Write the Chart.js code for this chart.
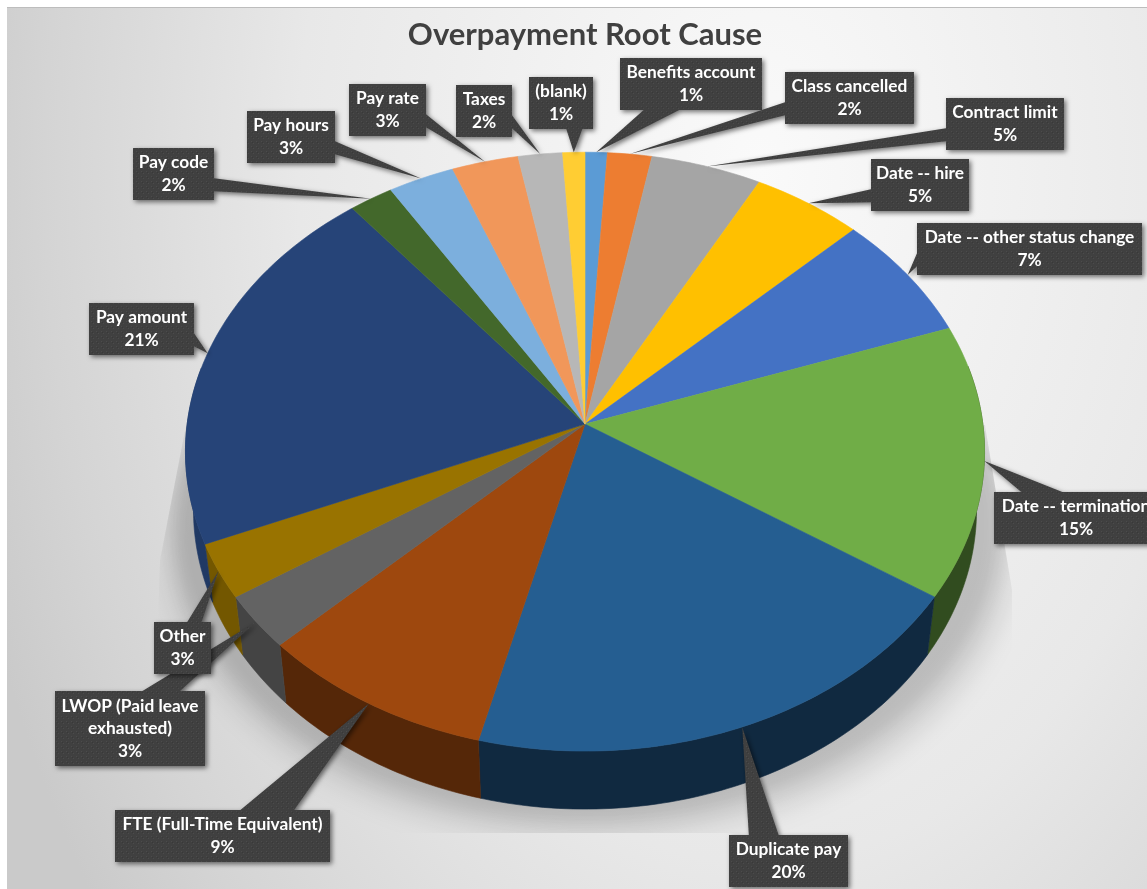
<!DOCTYPE html>
<html lang="en">
<head>
  <meta charset="UTF-8" />
  <title>Overpayment Root Cause</title>
  <script src="https://cdn.jsdelivr.net/npm/chart.js"></script>
  <style>
    html, body { margin: 0; padding: 0; background: #fff; overflow: hidden; }
    canvas { display: block; }
  </style>
</head>
<body>

<canvas id="rootCause" width="1147" height="889"></canvas>

<script>
  const categories = [
    'Benefits account', 'Class cancelled', 'Contract limit', 'Date -- hire',
    'Date -- other status change', 'Date -- termination', 'Duplicate pay',
    'FTE (Full-Time Equivalent)', 'LWOP (Paid leave exhausted)', 'Other',
    'Pay amount', 'Pay code', 'Pay hours', 'Pay rate', 'Taxes', '(blank)'
  ];
  const percents = [1, 2, 5, 5, 7, 15, 20, 9, 3, 3, 21, 2, 3, 3, 2, 1];
  const sliceColors = [
    '#5B9BD5', '#ED7D31', '#A5A5A5', '#FFC000', '#4472C4', '#70AD47', '#255E91',
    '#9E480E', '#636363', '#997300', '#264478', '#43682B', '#7CAFDD', '#F1975A',
    '#B7B7B7', '#FFCD33'
  ];
  // callout boxes as [left, top, width, height], same order as categories
  const calloutBoxes = [
    [620, 58, 142, 52], [785, 72, 129, 52], [946, 98, 118, 52], [871, 159, 98, 52],
    [917, 223, 225, 52], [994, 492, 164, 52], [729, 835, 119, 52], [115, 810, 215, 52],
    [55, 691, 150, 75], [154, 622, 57, 52], [89, 303, 105, 52], [133, 148, 81, 52],
    [247, 111, 88, 52], [349, 84, 77, 52], [456, 85, 56, 52], [529, 77, 64, 52]
  ];

  const X_STRETCH = 1.34;   // pie is wider than tall once tilted
  const TILT = 0.092;       // perspective strength, front of the pie comes closer
  const DEPTH = 58;         // wall height
  const STEP = Math.PI / 180;

  // tilted disc: angle on the circle -> canvas point
  function rim(arc, a) {
    const u = Math.cos(a), v = Math.sin(a);
    const w = 1 - TILT * v;
    return {
      x: arc.x + arc.outerRadius * X_STRETCH * u / w,
      y: arc.y + arc.outerRadius * v / w,
      u,
      v
    };
  }

  function shade(hex, f) {
    const n = parseInt(hex.slice(1), 16);
    const c = [n >> 16, (n >> 8) & 255, n & 255].map(p => Math.round(p * f));
    return `rgb(${c[0]},${c[1]},${c[2]})`;
  }

  // top face of each slice, the library still walks the elements and passes the colour
  Chart.ArcElement.prototype.draw = function (ctx) {
    const { x, y, startAngle, endAngle, options } = this;
    ctx.save();
    ctx.beginPath();
    ctx.moveTo(x, y);
    for (let a = startAngle; a < endAngle; a += STEP) {
      const p = rim(this, a);
      ctx.lineTo(p.x, p.y);
    }
    const last = rim(this, endAngle);
    ctx.lineTo(last.x, last.y);
    ctx.closePath();
    ctx.fillStyle = options.backgroundColor;
    ctx.strokeStyle = options.backgroundColor;
    ctx.lineWidth = 0.6;
    ctx.fill();
    ctx.stroke();
    ctx.restore();
  };

  function drawWall(ctx, arc, color) {
    let pts = [];
    for (let a = arc.startAngle; a < arc.endAngle; a += STEP) pts.push(rim(arc, a));
    pts.push(rim(arc, arc.endAngle));
    // the back of the wall is hidden by the top face
    pts = pts.filter(p => p.v > -0.2);
    if (pts.length < 2) return;
    const mid = pts[Math.floor(pts.length / 2)];
    // front and right walls sit in shade, the left ones catch more light
    const f = mid.u > 0 ? 0.44 : 0.44 + 0.4 * mid.u * mid.u;
    ctx.beginPath();
    pts.forEach((p, i) => i ? ctx.lineTo(p.x, p.y) : ctx.moveTo(p.x, p.y));
    pts.slice().reverse().forEach(p => {
      ctx.lineTo(arc.x + (p.x - arc.x) * 0.98, p.y + DEPTH);
    });
    ctx.closePath();
    ctx.fillStyle = shade(color, f);
    ctx.strokeStyle = ctx.fillStyle;
    ctx.lineWidth = 0.6;
    ctx.fill();
    ctx.stroke();
  }

  function dotTexture(ctx) {
    const tile = document.createElement('canvas');
    tile.width = tile.height = 5;
    const t = tile.getContext('2d');
    t.fillStyle = '#404040';
    t.fillRect(0, 0, 5, 5);
    t.fillStyle = '#4c4c4c';
    t.fillRect(1, 1, 1, 1);
    t.fillRect(3, 3, 1, 1);
    t.fillStyle = '#383838';
    t.fillRect(2, 2, 1, 1);
    return ctx.createPattern(tile, 'repeat');
  }

  // wedge callout: the base sits on the side facing the tip
  function calloutPath(ctx, box, tip) {
    const [l, t, w, h] = box;
    const dx = (tip.x - (l + w / 2)) / w;
    const dy = (tip.y - (t + h / 2)) / h;
    const r = l + w, b = t + h;
    const bx1 = l + w * (dx < 0 ? 1 / 6 : 7 / 12), bx2 = l + w * (dx < 0 ? 5 / 12 : 5 / 6);
    const by1 = t + h * (dy < 0 ? 1 / 6 : 7 / 12), by2 = t + h * (dy < 0 ? 5 / 12 : 5 / 6);
    const sideways = Math.abs(dx) > Math.abs(dy);
    ctx.beginPath();
    ctx.moveTo(l, t);
    if (!sideways && dy < 0) { ctx.lineTo(bx1, t); ctx.lineTo(tip.x, tip.y); ctx.lineTo(bx2, t); }
    ctx.lineTo(r, t);
    if (sideways && dx > 0) { ctx.lineTo(r, by1); ctx.lineTo(tip.x, tip.y); ctx.lineTo(r, by2); }
    ctx.lineTo(r, b);
    if (!sideways && dy > 0) { ctx.lineTo(bx2, b); ctx.lineTo(tip.x, tip.y); ctx.lineTo(bx1, b); }
    ctx.lineTo(l, b);
    if (sideways && dx < 0) { ctx.lineTo(l, by2); ctx.lineTo(tip.x, tip.y); ctx.lineTo(l, by1); }
    ctx.closePath();
  }

  function wrapLines(ctx, text, maxWidth) {
    const lines = [];
    let line = '';
    text.split(' ').forEach(word => {
      const next = line ? line + ' ' + word : word;
      if (line && ctx.measureText(next).width > maxWidth) {
        lines.push(line);
        line = word;
      } else {
        line = next;
      }
    });
    lines.push(line);
    return lines;
  }

  const pie3d = {
    id: 'pie3d',
    beforeDraw(chart) {
      const { ctx, width, height } = chart;
      // panel background, light patch towards the upper right
      ctx.save();
      ctx.beginPath();
      ctx.rect(7, 8, width - 7, height - 8);
      ctx.clip();
      ctx.translate(760, 170);
      ctx.scale(1, 1.5);
      const g = ctx.createRadialGradient(0, 0, 0, 0, 0, 1100);
      g.addColorStop(0, '#fafafa');
      g.addColorStop(0.42, '#e8e8e8');
      g.addColorStop(0.65, '#d4d4d4');
      g.addColorStop(0.75, '#cacaca');
      g.addColorStop(1, '#cacaca');
      ctx.fillStyle = g;
      ctx.fillRect(-800, -200, 1300, 800);
      ctx.restore();
      ctx.fillStyle = '#bdbdbd';
      ctx.fillRect(7, 7, width - 7, 1);
    },
    beforeDatasetsDraw(chart) {
      const { ctx } = chart;
      const arcs = chart.getDatasetMeta(0).data;
      const first = arcs[0];
      // floor shadow, cut off by slanted sides and darkest next to the pie
      ctx.save();
      ctx.beginPath();
      ctx.moveTo(186, 425);
      ctx.lineTo(985, 425);
      ctx.lineTo(1012, 590);
      ctx.lineTo(1012, 833);
      ctx.lineTo(150, 833);
      ctx.lineTo(160, 560);
      ctx.closePath();
      ctx.clip();
      ctx.filter = 'blur(12px)';
      ctx.fillStyle = 'rgba(0,0,0,0.11)';
      ctx.beginPath();
      ctx.ellipse(first.x + 5, first.y + 116, first.outerRadius * 1.43, first.outerRadius * 1.01, 0, 0, Math.PI * 2);
      ctx.fill();
      ctx.filter = 'blur(8px)';
      ctx.fillStyle = 'rgba(0,0,0,0.1)';
      ctx.beginPath();
      ctx.ellipse(first.x + 2, first.y + 100, first.outerRadius * 1.39, first.outerRadius * 1.0, 0, 0, Math.PI * 2);
      ctx.fill();
      ctx.restore();
      ctx.save();
      arcs.forEach((arc, i) => drawWall(ctx, arc, sliceColors[i]));
      ctx.restore();
    },
    afterDatasetsDraw(chart) {
      const { ctx } = chart;
      const arcs = chart.getDatasetMeta(0).data;
      const texture = dotTexture(ctx);
      ctx.save();
      arcs.forEach((arc, i) => {
        const tip = rim(arc, (arc.startAngle + arc.endAngle) / 2);
        ctx.save();
        ctx.shadowColor = 'rgba(0,0,0,0.55)';
        ctx.shadowBlur = 5;
        ctx.shadowOffsetX = 2;
        ctx.shadowOffsetY = 2;
        calloutPath(ctx, calloutBoxes[i], tip);
        ctx.fillStyle = texture;
        ctx.fill();
        ctx.restore();
      });
      ctx.font = 'bold 17.3px Lato';
      ctx.fillStyle = '#fff';
      ctx.textAlign = 'center';
      ctx.textBaseline = 'middle';
      arcs.forEach((arc, i) => {
        const [l, t, w, h] = calloutBoxes[i];
        const lines = wrapLines(ctx, categories[i], w - 6).concat(percents[i] + '%');
        lines.forEach((line, n) => {
          ctx.fillText(line, l + w / 2, t + h / 2 + (n - (lines.length - 1) / 2) * 22.5);
        });
      });
      ctx.restore();
    }
  };

  new Chart(document.getElementById('rootCause'), {
    type: 'pie',
    data: {
      labels: categories,
      datasets: [{ data: percents, backgroundColor: sliceColors, borderWidth: 0 }]
    },
    options: {
      responsive: false,
      animation: false,
      layout: { padding: { left: 100, right: 77, top: 0, bottom: 168 } },
      plugins: {
        legend: { display: false },
        tooltip: { enabled: false },
        title: {
          display: true,
          text: 'Overpayment Root Cause',
          color: '#404040',
          font: { family: 'Lato', size: 31, weight: 'bold', lineHeight: 1.2 },
          padding: { top: 16, bottom: 74 }
        }
      }
    },
    plugins: [pie3d]
  });
</script>

</body>
</html>
